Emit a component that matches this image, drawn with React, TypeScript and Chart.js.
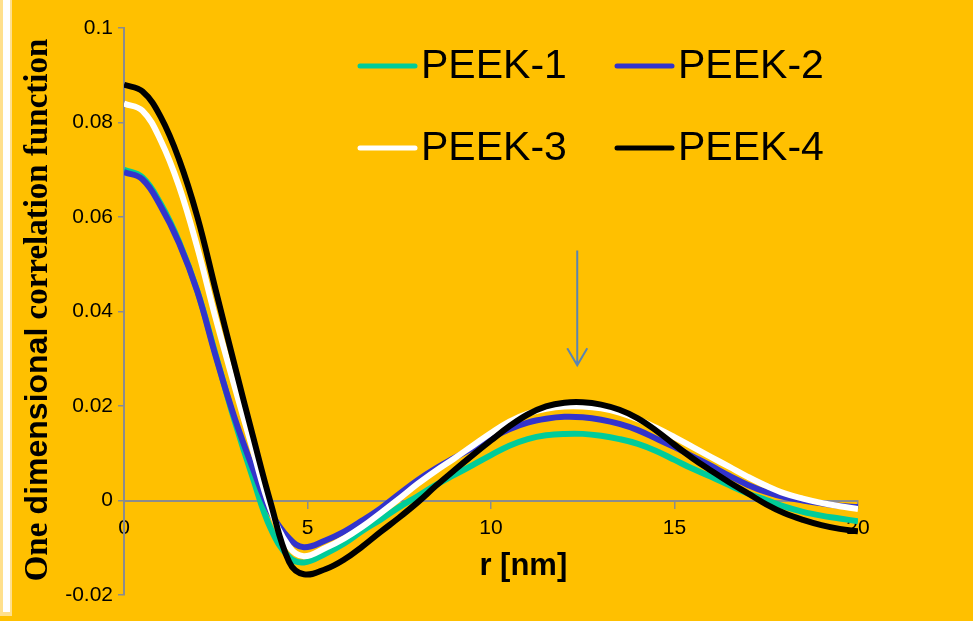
import React, { useEffect, useRef } from 'react';
import { Chart, registerables } from 'chart.js';

Chart.register(...registerables);

// r [nm] sample positions
const rValues = [0, 0.5, 1, 1.5, 2, 2.5, 3, 3.5, 4, 4.5, 4.9, 5.5, 6, 6.5, 7, 7.5, 8, 8.5, 9, 9.5, 10, 10.5, 11, 11.5, 12, 12.5, 13, 13.5, 14, 14.5, 15, 15.5, 16, 16.5, 17, 17.5, 18, 18.5, 19, 19.5, 20];

const peek1 = [0.0700, 0.0684, 0.0628, 0.0548, 0.0443, 0.0308, 0.0172, 0.0050, -0.0060, -0.0120, -0.0131, -0.0112, -0.0091, -0.0064, -0.0040, -0.0014, 0.0009, 0.0033, 0.0054, 0.0075, 0.0096, 0.0116, 0.0130, 0.0138, 0.0141, 0.0141, 0.0137, 0.0130, 0.0120, 0.0105, 0.0086, 0.0067, 0.0050, 0.0032, 0.0015, 0.0001, -0.0013, -0.0024, -0.0032, -0.0038, -0.0044];
const peek2 = [0.0695, 0.0680, 0.0623, 0.0545, 0.0442, 0.0305, 0.0178, 0.0070, -0.0025, -0.0080, -0.0099, -0.0084, -0.0066, -0.0042, -0.0016, 0.0014, 0.0043, 0.0068, 0.0090, 0.0111, 0.0132, 0.0151, 0.0165, 0.0173, 0.0177, 0.0176, 0.0171, 0.0162, 0.0149, 0.0131, 0.0113, 0.0093, 0.0073, 0.0052, 0.0033, 0.0018, 0.0007, 0.0000, -0.0006, -0.0011, -0.0014];
const peek3 = [0.0840, 0.0825, 0.0762, 0.0665, 0.0535, 0.0385, 0.0245, 0.0110, -0.0020, -0.0098, -0.0118, -0.0100, -0.0080, -0.0055, -0.0026, 0.0004, 0.0035, 0.0063, 0.0089, 0.0116, 0.0143, 0.0167, 0.0184, 0.0194, 0.0199, 0.0199, 0.0195, 0.0186, 0.0172, 0.0154, 0.0134, 0.0113, 0.0092, 0.0071, 0.0050, 0.0031, 0.0015, 0.0004, -0.0005, -0.0012, -0.0018];
const peek4 = [0.0880, 0.0866, 0.0812, 0.0722, 0.0600, 0.0445, 0.0291, 0.0140, -0.0006, -0.0130, -0.0156, -0.0145, -0.0125, -0.0097, -0.0066, -0.0036, -0.0004, 0.0031, 0.0064, 0.0096, 0.0127, 0.0157, 0.0182, 0.0199, 0.0207, 0.0208, 0.0203, 0.0192, 0.0174, 0.0148, 0.0118, 0.0089, 0.0063, 0.0038, 0.0015, -0.0008, -0.0027, -0.0041, -0.0052, -0.0060, -0.0065];

const seriesLabels = ['PEEK-1', 'PEEK-2', 'PEEK-3', 'PEEK-4'];
const seriesValues = [peek1, peek2, peek3, peek4];
const seriesColors = ['#00CC99', '#3333CC', '#FFFFFF', '#000000'];

const xTicks = [0, 5, 10, 15, 20];
const yTicks = [-0.02, 0, 0.02, 0.04, 0.06, 0.08, 0.1];

const xTitle = 'r [nm]';
const yTitleParts = ['One ', 'dimensional', ' correlation function'];

// arrow marking the long period peak
const arrowR = 12.35;
const arrowFrom = 0.0529;
const arrowTo = 0.0286;

const BG = '#FFC000';
const AXIS = '#8C8C8C';

const decorPlugin = {
  id: 'decor',
  beforeDraw(chart: any) {
    const { ctx, width, height } = chart;
    ctx.save();
    ctx.fillStyle = BG;
    ctx.fillRect(0, 0, width, height);
    ctx.fillStyle = '#FFE08C';
    ctx.fillRect(0, 0, 12, 616);
    ctx.fillStyle = '#FFFFFF';
    ctx.fillRect(3, 0, 7, 612);
    ctx.restore();
  },
  afterDraw(chart: any) {
    const { ctx, chartArea } = chart;
    const xs = chart.scales.x;
    const ys = chart.scales.y;
    ctx.save();

    // arrow
    const ax = xs.getPixelForValue(arrowR);
    const ay1 = ys.getPixelForValue(arrowFrom);
    const ay2 = ys.getPixelForValue(arrowTo);
    ctx.strokeStyle = '#5B84B1';
    ctx.lineWidth = 2;
    ctx.beginPath();
    ctx.moveTo(ax, ay1);
    ctx.lineTo(ax, ay2);
    ctx.moveTo(ax - 10, ay2 - 17);
    ctx.lineTo(ax, ay2);
    ctx.lineTo(ax + 10, ay2 - 17);
    ctx.stroke();

    // x title
    ctx.fillStyle = '#000';
    ctx.font = 'bold 31px "Liberation Sans", Arial, sans-serif';
    ctx.textAlign = 'center';
    ctx.textBaseline = 'middle';
    ctx.fillText(xTitle, chartArea.left + chartArea.width * 0.544, 566);

    // y title (mixed fonts)
    const fonts = [
      'bold 33px "Liberation Serif", "Times New Roman", serif',
      'bold 32px "Liberation Sans", Arial, sans-serif',
      'bold 33px "Liberation Serif", "Times New Roman", serif',
    ];
    let total = 0;
    const widths: number[] = [];
    yTitleParts.forEach((p, i) => {
      ctx.font = fonts[i];
      const w = ctx.measureText(p).width;
      widths.push(w);
      total += w;
    });
    ctx.translate(47, 310);
    ctx.rotate(-Math.PI / 2);
    ctx.textAlign = 'left';
    ctx.textBaseline = 'alphabetic';
    let cx = -total / 2;
    yTitleParts.forEach((p, i) => {
      ctx.font = fonts[i];
      ctx.fillText(p, cx, 0);
      cx += widths[i];
    });
    ctx.restore();

    // legend
    ctx.save();
    chart.data.datasets.forEach((ds: any, i: number) => {
      const col = i % 2;
      const row = Math.floor(i / 2);
      const lx = 360 + col * 257;
      const ly = 66 + row * 82;
      ctx.strokeStyle = ds.borderColor;
      ctx.lineWidth = 5;
      ctx.lineCap = 'round';
      ctx.beginPath();
      ctx.moveTo(lx, ly);
      ctx.lineTo(lx + 55, ly);
      ctx.stroke();
      ctx.fillStyle = '#000';
      ctx.font = '41px "Liberation Sans", Arial, sans-serif';
      ctx.textAlign = 'left';
      ctx.textBaseline = 'middle';
      ctx.fillText(ds.label, lx + 61, ly + 1);
    });
    ctx.restore();
  },
};

export default function App() {
  const ref = useRef<HTMLCanvasElement | null>(null);

  useEffect(() => {
    document.body.style.margin = '0';
    document.body.style.background = BG;
    const canvas = ref.current;
    if (!canvas) return;
    const drawOrder = [4, 3, 2, 1];
    const chart = new Chart(canvas, {
      type: 'line',
      data: {
        datasets: seriesLabels.map((label, i) => ({
          label,
          data: rValues.map((r, k) => ({ x: r, y: seriesValues[i][k] })),
          borderColor: seriesColors[i],
          backgroundColor: seriesColors[i],
          borderWidth: 6,
          pointRadius: 0,
          tension: 0.4,
          fill: false,
          order: drawOrder[i],
        })),
      },
      options: {
        responsive: false,
        animation: false,
        devicePixelRatio: 1,
        layout: { padding: { left: 0, top: 28, right: 115, bottom: 26 } },
        plugins: { legend: { display: false }, tooltip: { enabled: false } },
        scales: {
          x: {
            type: 'linear',
            position: { y: 0 } as any,
            min: 0,
            max: 20,
            afterBuildTicks: (s: any) => { s.ticks = xTicks.map((v) => ({ value: v })); },
            afterFit: (s: any) => { s.height = 26; },
            ticks: {
              color: '#000',
              font: { size: 21, family: '"Liberation Sans", Arial, sans-serif' },
              padding: 8,
              maxRotation: 0,
              callback: (v: any) => String(v),
            },
            grid: { display: true, drawOnChartArea: false, drawTicks: true, tickLength: 7, color: AXIS, lineWidth: 1.5 },
            border: { display: true, color: AXIS, width: 2 },
          },
          y: {
            type: 'linear',
            min: -0.02,
            max: 0.1,
            afterBuildTicks: (s: any) => { s.ticks = yTicks.map((v) => ({ value: v })); },
            afterFit: (s: any) => { s.width = 124; },
            ticks: {
              color: '#000',
              font: { size: 21, family: '"Liberation Sans", Arial, sans-serif' },
              padding: 5,
              callback: (v: any) => String(Math.round(Number(v) * 100) / 100),
            },
            grid: { display: true, drawOnChartArea: false, drawTicks: true, tickLength: 6, color: AXIS, lineWidth: 1.5 },
            border: { display: true, color: AXIS, width: 2 },
          },
        },
      },
      plugins: [decorPlugin],
    });
    return () => chart.destroy();
  }, []);

  return (
    <div style={{ width: 973, height: 621, background: BG }}>
      <canvas ref={ref} width={973} height={621} style={{ display: 'block' }} />
    </div>
  );
}
